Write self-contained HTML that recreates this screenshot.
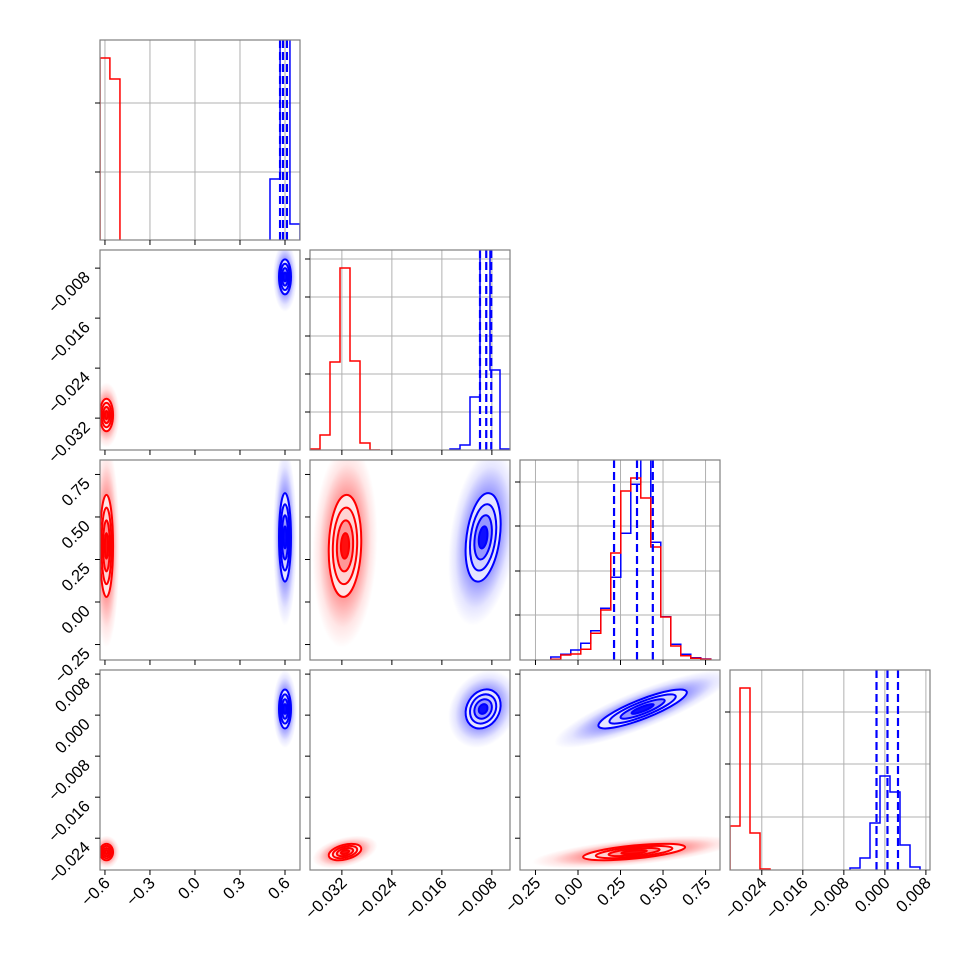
<!DOCTYPE html>
<html><head><meta charset="utf-8"><style>
html,body{margin:0;padding:0;background:#fff}
svg{display:block;font-family:"Liberation Sans","DejaVu Sans",sans-serif}
</style></head><body>
<svg id="fig" width="970" height="970" viewBox="0 0 970 970" xmlns="http://www.w3.org/2000/svg"></svg>
<script>
// ---- axis ranges & ticks ----
const p0Range=[-0.633,0.7], p1Range=[-0.0371,-0.0051], p2Range=[-0.341,0.835], p3Range=[-0.0302,0.0088];
const p0Ticks=[-0.6,-0.3,0,0.3,0.6], p0Labels=["−0.6","−0.3","0.0","0.3","0.6"];
const p1Ticks=[-0.032,-0.024,-0.016,-0.008], p1Labels=["−0.032","−0.024","−0.016","−0.008"];
const p2Ticks=[-0.25,0,0.25,0.5,0.75], p2Labels=["−0.25","0.00","0.25","0.50","0.75"];
const p3Ticks=[-0.024,-0.016,-0.008,0,0.008], p3Labels=["−0.024","−0.016","−0.008","0.000","0.008"];
// ---- histogram data (counts in arbitrary units, panel max = 200) ----
const h0RedEdges=[-0.633,-0.567,-0.5], h0RedCounts=[182,161];
const h0BlueEdges=[0.5,0.567,0.633,0.7], h0BlueCounts=[61,260,16];
const h0Ticks=[68,137], h0Quant=[0.567,0.587,0.613];
const h1RedStart=-0.0371, h1BlueStart=-0.0147, h1Width=0.0016;
const h1RedCounts=[1,15,88,182,89,7,0], h1BlueCounts=[1,5,53,260,80,1];
const h1Ticks=[38,76,114,153,191], h1Quant=[-0.0099,-0.0089,-0.0081];
const h2Start=-0.160, h2Width=0.0588;
const h2RedCounts=[0.7,5,6,10.7,26.7,50,107,169,182,162,113,43,14,4.3,1.7,0.7];
const h2BlueCounts=[3,5.7,10,16.7,29.3,51.7,82.7,126.7,175.7,230,117.7,43.3,15.7,5.7,2.3,1];
const h2Ticks=[45,89,134,178], h2Quant=[0.212,0.347,0.44];
const h3RedStart=-0.0302, h3BlueStart=-0.0068, h3Width=0.00195;
const h3RedCounts=[44,182,37,1], h3BlueCounts=[2,12,47,94,78,25,3];
const h3Ticks=[53,106,158], h3Quant=[-0.00163,0.00051,0.00256];
// ---- 2D sample statistics ----
const redMean=[-0.59,-0.0315,0.33,-0.0267], redSd=[0.022,0.0013,0.15,0.0008];
const blueMean=[0.6,-0.0094,0.38,0.0012], blueSd=[0.02,0.0014,0.13,0.0019];
const redCorr={"1-2":0.1,"1-3":0.4,"2-3":0.6,"0-1":0,"0-2":0,"0-3":0};
const blueCorr={"1-2":0.3,"1-3":0.2,"2-3":0.85,"0-1":0,"0-2":0,"0-3":0};

const NS="http://www.w3.org/2000/svg";
const svg=document.getElementById('fig');
const colX=[100,310,520,730], rowY=[40,250,460,670], S=200;
const ranges=[p0Range,p1Range,p2Range,p3Range];
const ticks=[p0Ticks,p1Ticks,p2Ticks,p3Ticks], labels=[p0Labels,p1Labels,p2Labels,p3Labels];
function mk(tag,attrs,parent){const e=document.createElementNS(NS,tag);for(const k in attrs)e.setAttribute(k,attrs[k]);(parent||svg).appendChild(e);return e;}
function sx(j,v){const r=ranges[j];return colX[j]+(v-r[0])/(r[1]-r[0])*S;}
function sy(i,v){const r=ranges[i];return rowY[i]+S-(v-r[0])/(r[1]-r[0])*S;}
function kx(j){const r=ranges[j];return S/(r[1]-r[0]);}

const defs=mk('defs',{});
['red','blue'].forEach(c=>{
  const g=mk('radialGradient',{id:'g'+c,cx:'0.5',cy:'0.5',r:'0.5'},defs);
  const col=c==='red'?'#ff0000':'#0000ff';
  [[0,0.7],[0.35,0.55],[0.6,0.3],[0.8,0.1],[1,0]].forEach(s=>mk('stop',{offset:s[0],'stop-color':col,'stop-opacity':s[1]},g));
});

function axesBox(i,j){
  const cp=mk('clipPath',{id:'c'+i+j},defs);
  mk('rect',{x:colX[j],y:rowY[i],width:S,height:S},cp);
  const g=mk('g',{});
  
  
  const inner=mk('g',{'clip-path':'url(#c'+i+j+')'},g);
  return {g,inner};
}
function frame(g,i,j){
  const r=mk('rect',{x:colX[j],y:rowY[i],width:S,height:S,fill:'none',stroke:'#808080','stroke-width':1.2},g);
  
  
}
function xTickMarks(g,i,j,withLabels){
  ticks[j].forEach((t,k)=>{
    const x=sx(j,t);
    mk('line',{x1:x,x2:x,y1:rowY[i]+S,y2:rowY[i]+S+5,stroke:'#000','stroke-width':1},g);
    if(withLabels){
      const tx=mk('text',{transform:`translate(${x+6},${rowY[i]+S+14}) rotate(-45)`,'text-anchor':'end','font-size':16.5,fill:'#000'},g);
      
      
      tx.textContent=labels[j][k];
    }
  });
}
function yTickMarks(g,i,j,vals,withLabels,isHist){
  vals.forEach((t,k)=>{
    const y=isHist?rowY[i]+S-t:sy(i,t);
    mk('line',{x1:colX[j]-5,x2:colX[j],y1:y,y2:y,stroke:'#000','stroke-width':1},g);
    if(withLabels){
      const tx=mk('text',{transform:`translate(${colX[j]-9},${y+10}) rotate(-45)`,'text-anchor':'end','font-size':16.5,fill:'#000'},g);
      
      
      tx.textContent=labels[i][k];
    }
  });
}
function steps(i,edges,counts){
  const base=rowY[i]+S;let d='M'+sx(i,edges[0])+','+base;
  counts.forEach((c,k)=>{const x0=sx(i,edges[k]),x1=sx(i,edges[k+1]),y=base-c;d+=` L${x0},${y} L${x1},${y}`;});
  d+=` L${sx(i,edges[edges.length-1])},${base}`;return d;
}
function edgesFrom(start,w,n){const e=[];for(let k=0;k<=n;k++)e.push(start+k*w);return e;}

const hists=[
 {red:[h0RedEdges,h0RedCounts],blue:[h0BlueEdges,h0BlueCounts],t:h0Ticks,q:h0Quant},
 {red:[edgesFrom(h1RedStart,h1Width,h1RedCounts.length),h1RedCounts],blue:[edgesFrom(h1BlueStart,h1Width,h1BlueCounts.length),h1BlueCounts],t:h1Ticks,q:h1Quant},
 {red:[edgesFrom(h2Start,h2Width,h2RedCounts.length),h2RedCounts],blue:[edgesFrom(h2Start,h2Width,h2BlueCounts.length),h2BlueCounts],t:h2Ticks,q:h2Quant},
 {red:[edgesFrom(h3RedStart,h3Width,h3RedCounts.length),h3RedCounts],blue:[edgesFrom(h3BlueStart,h3Width,h3BlueCounts.length),h3BlueCounts],t:h3Ticks,q:h3Quant}
];
hists.forEach((h,i)=>{
  const {g,inner}=axesBox(i,i);
  
  ticks[i].forEach(t=>{const x=sx(i,t);mk('line',{x1:x,x2:x,y1:rowY[i],y2:rowY[i]+S,stroke:'#b0b0b0','stroke-width':1},inner);});
  h.t.forEach(t=>{const y=rowY[i]+S-t;mk('line',{x1:colX[i],x2:colX[i]+S,y1:y,y2:y,stroke:'#b0b0b0','stroke-width':1},inner);});
  const b=mk('path',{d:steps(i,h.blue[0],h.blue[1]),fill:'none',stroke:'#0000ff','stroke-width':1.5},inner);
  
  
  const r=mk('path',{d:steps(i,h.red[0],h.red[1]),fill:'none',stroke:'#ff0000','stroke-width':1.5},inner);
  
  
  h.q.forEach(v=>{const x=sx(i,v);const l=mk('line',{x1:x,x2:x,y1:rowY[i],y2:rowY[i]+S,stroke:'#0000ff','stroke-width':2.2,'stroke-dasharray':'8,4'},inner);
    
    });
  frame(g,i,i);
  xTickMarks(g,i,i,i===3);
  yTickMarks(g,i,i,h.t,false,true);
});

function ellipse(parent,i,j,mean,sd,corr,k,attrs){
  const ax=sd[j]*kx(j), ay=sd[i]*kx(i), c=-corr;
  const sxx=ax*ax, syy=ay*ay, sxy=c*ax*ay;
  const ang=0.5*Math.atan2(2*sxy,sxx-syy);
  const m=(sxx+syy)/2, dd=Math.sqrt(((sxx-syy)/2)**2+sxy*sxy);
  const r1=Math.sqrt(m+dd)*k, r2=Math.max(Math.sqrt(Math.max(m-dd,1e-6))*k,k*1.5);
  const cx=sx(j,mean[j]), cy=sy(i,mean[i]);
  const a=Object.assign({cx:0,cy:0,rx:r1,ry:r2,transform:`translate(${cx},${cy}) rotate(${ang*180/Math.PI})`},attrs);
  return mk('ellipse',a,parent);
}
for(let i=1;i<4;i++)for(let j=0;j<i;j++){
  const {g,inner}=axesBox(i,j);
  [['red',redMean,redSd,redCorr,['#fff0f0','#ffd0d0','#ff9090','#ff0000']],
   ['blue',blueMean,blueSd,blueCorr,['#f0f0ff','#d0d0ff','#9090ff','#0000ff']]].forEach(([nm,mean,sd,cr,sh])=>{
    const corr=cr[j+'-'+i];
    const cl=ellipse(inner,i,j,mean,sd,corr,4,{fill:`url(#g${nm})`});
    
    
    [2,1.5,1,0.5].forEach((k,n)=>{
      const e=ellipse(inner,i,j,mean,sd,corr,k,{fill:sh[n],'fill-opacity':0.9,stroke:nm==='red'?'#ff0000':'#0000ff','stroke-width':2});
      
      
    });
  });
  frame(g,i,j);
  xTickMarks(g,i,j,i===3);
  yTickMarks(g,i,j,ticks[i],j===0,false);
}
</script>
</body></html>
